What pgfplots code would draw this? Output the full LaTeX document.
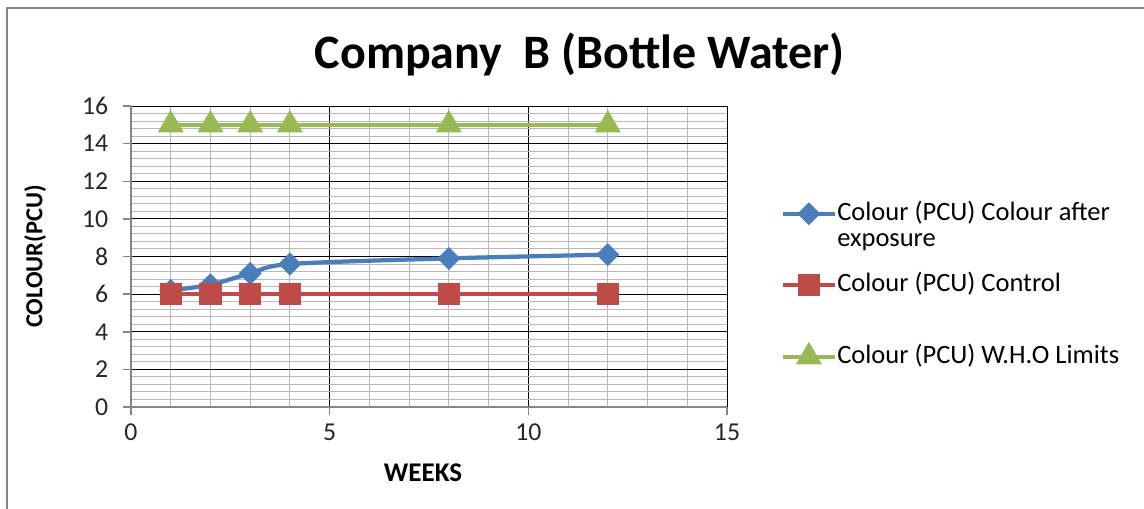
\documentclass[border=0pt]{standalone}
\usepackage{fontspec}
\setmainfont{Carlito}
\usepackage{pgfplots}
\pgfplotsset{compat=1.18}
\definecolor{sblue}{HTML}{4A7EBB}
\definecolor{sred}{HTML}{BE4B48}
\definecolor{sgreen}{HTML}{98B954}
\definecolor{framegray}{HTML}{868686}
\begin{document}
\begin{tikzpicture}[x=0.4pt,y=0.4pt]
\useasboundingbox (-131,-101) rectangle (1013,407);
\draw[framegray, line width=0.8pt] (-124,-110) -- (-124,399) -- (1020,399);
\begin{axis}[
    scale only axis,
    width=238.4pt, height=120.4pt,
    at={(0,0)}, anchor=south west,
    xmin=0, xmax=15, ymin=0, ymax=16,
    xtick={0,5,10,15}, ytick={0,2,...,16},
    minor x tick num=4, minor y tick num=4,
    grid=both,
    major grid style={black, line width=0.4pt},
    minor grid style={black!28, line width=0.4pt},
    axis lines=left,
    axis line style={-, framegray, line width=0.6pt},
    tick align=outside,
    major tick length=3.2pt, minor tick length=0pt,
    tick style={framegray, line width=0.6pt},
    ticklabel style={font=\fontsize{10.3}{12}\selectfont, text=black!85},
    yticklabel style={xshift=-2.4pt},
    /pgf/number format/assume math mode=true,
    title={Company\ \ B (Bottle Water)},
    title style={font=\fontsize{19.2}{22}\selectfont\bfseries,
        at={(axis description cs:0.753,1.122)}, anchor=center},
    xlabel={WEEKS}, ylabel={COLOUR(PCU)},
    label style={font=\fontsize{9.8}{11}\selectfont\bfseries},
    xlabel style={font=\fontsize{10.8}{12}\selectfont\bfseries,
        at={(axis description cs:0.49,-0.219)}, anchor=center},
    ylabel style={at={(axis description cs:-0.161,0.5)}, anchor=center},
    legend style={at={(axis description cs:1.089,0.681)}, anchor=north west,
        draw=none, fill=none, inner sep=0pt, row sep=19.6pt,
        font=\fontsize{10.6}{11.2}\selectfont,
        nodes={inner sep=0pt, text height=7pt, text depth=2pt}},
    legend cell align=left,
    legend image code/.code={
        \draw[mark repeat=2, mark phase=2, #1]
            plot coordinates {(0pt,0pt) (10.5pt,0pt) (21pt,0pt)};},
]
\addplot[sblue, line width=1.7pt, smooth, mark=square*,
    mark size=2.4pt, mark options={rotate=45, fill=sblue, draw=sblue}]
coordinates {(1,6.2) (2,6.5) (3,7.1) (4,7.6) (8,7.9) (12,8.1)};
\addlegendentry{\smash{\begin{tabular}[t]{@{}l@{}}Colour (PCU) Colour after\\[-0.6pt]exposure\end{tabular}}}

\addplot[sred, line width=1.7pt, mark=square*,
    mark size=3.6pt, mark options={fill=sred, draw=sred}]
coordinates {(1,6) (2,6) (3,6) (4,6) (8,6) (12,6)};
\addlegendentry{Colour (PCU) Control}

\addplot[sgreen, line width=1.7pt, mark=triangle*,
    mark size=4.3pt, mark options={fill=sgreen, draw=sgreen}]
coordinates {(1,15) (2,15) (3,15) (4,15) (8,15) (12,15)};
\addlegendentry{Colour (PCU) W.H.O Limits}
\end{axis}
\end{tikzpicture}
\end{document}
